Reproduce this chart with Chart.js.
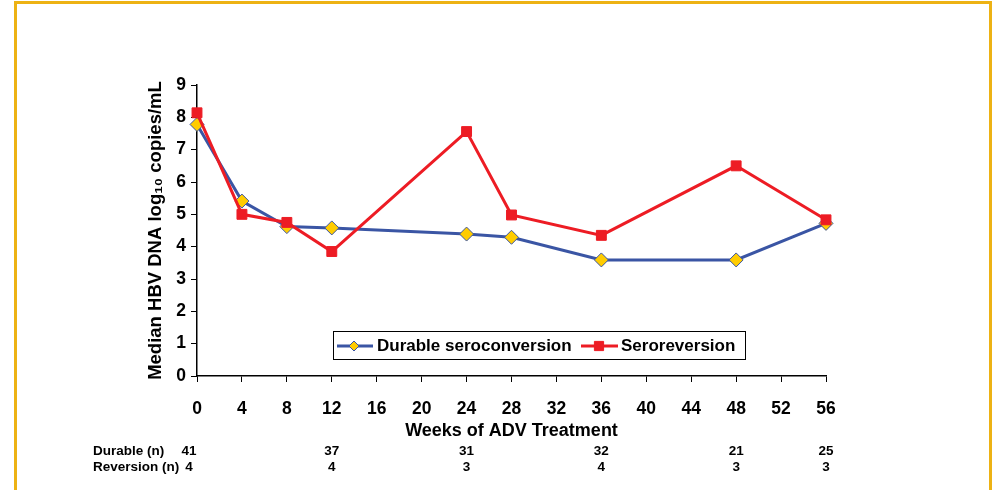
<!DOCTYPE html>
<html><head><meta charset="utf-8">
<script src="https://cdn.jsdelivr.net/npm/chart.js@4.4.0/dist/chart.umd.min.js"></script>
<style>
html,body{margin:0;padding:0;background:#fff;}
#wrap{position:relative;width:1003px;height:490px;overflow:hidden;}
#frame{position:absolute;left:14px;top:1px;width:972px;height:600px;border:3px solid #EDB214;border-bottom:none;pointer-events:none;}
canvas{display:block;}
</style></head>
<body><div id="wrap"><canvas id="c" width="1003" height="490"></canvas><div id="frame"></div></div>
<script>
const weeks = [0, 4, 8, 12, 24, 28, 36, 48, 56];
const durable = [7.78, 5.41, 4.62, 4.58, 4.39, 4.29, 3.59, 3.59, 4.72];
const reversion = [8.14, 5.0, 4.75, 3.85, 7.56, 4.98, 4.35, 6.5, 4.83];
const seriesNames = ['Durable seroconversion', 'Seroreversion'];
const xTicks = [0, 4, 8, 12, 16, 20, 24, 28, 32, 36, 40, 44, 48, 52, 56];
const yTicks = [0, 1, 2, 3, 4, 5, 6, 7, 8, 9];
const tableWeeks = [0, 12, 24, 36, 48, 56];
const durableN = [41, 37, 31, 32, 21, 25];
const reversionN = [4, 4, 3, 4, 3, 3];
const rowLabels = ['Durable (n)', 'Reversion (n)'];
const xTitle = 'Weeks of ADV Treatment';
const yTitle = 'Median HBV DNA log\u2081\u2080 copies/mL';

const FONT = '"Liberation Sans", Arial, sans-serif';
const BLUE = '#3A55A4';
const RED = '#ED1C24';
const YELLOW = '#FFCC00';

const overlay = {
  id: 'overlay',
  afterDraw(chart) {
    const ctx = chart.ctx;
    const xs = chart.scales.x;
    ctx.save();
    // data table under the axis
    ctx.fillStyle = '#000';
    ctx.textBaseline = 'middle';
    ctx.font = 'bold 13.5px ' + FONT;
    const rowY = [451, 467];
    ctx.textAlign = 'left';
    ctx.fillText(rowLabels[0], 93, rowY[0]);
    ctx.fillText(rowLabels[1], 93, rowY[1]);
    ctx.textAlign = 'center';
    tableWeeks.forEach((w, i) => {
      let px = xs.getPixelForValue(w);
      if (i === 0) px -= 8;
      ctx.fillText(String(durableN[i]), px, rowY[0]);
      ctx.fillText(String(reversionN[i]), px, rowY[1]);
    });
    // legend box
    ctx.lineWidth = 1;
    ctx.strokeStyle = '#000';
    ctx.fillStyle = '#fff';
    ctx.fillRect(333.5, 331.5, 412, 28);
    ctx.strokeRect(333.5, 331.5, 412, 28);
    const ly = 346;
    const items = [
      {ds: chart.data.datasets[0], x0: 337, x1: 373, px: 354, r: 5, tx: 377},
      {ds: chart.data.datasets[1], x0: 581, x1: 618, px: 599, r: 6.5, tx: 621}
    ];
    items.forEach(it => {
      ctx.strokeStyle = it.ds.borderColor;
      ctx.lineWidth = 3;
      ctx.beginPath(); ctx.moveTo(it.x0, ly); ctx.lineTo(it.x1, ly); ctx.stroke();
      ctx.fillStyle = it.ds.pointBackgroundColor;
      ctx.strokeStyle = it.ds.pointBorderColor;
      ctx.lineWidth = 1;
      Chart.helpers.drawPoint(ctx, {pointStyle: it.ds.pointStyle, radius: it.r, rotation: 0, borderWidth: 1}, it.px, ly);
      ctx.fillStyle = '#000';
      ctx.textAlign = 'left';
      ctx.textBaseline = 'middle';
      ctx.font = 'bold 17px ' + FONT;
      ctx.fillText(it.ds.label, it.tx, ly);
    });
    ctx.restore();
  }
};

new Chart(document.getElementById('c'), {
  type: 'line',
  data: {
    datasets: [
      {
        label: seriesNames[0],
        data: weeks.map((w, i) => ({x: w, y: durable[i]})),
        borderColor: BLUE, borderWidth: 3,
        pointStyle: 'rectRot', pointRadius: 7, pointHoverRadius: 7,
        pointBackgroundColor: YELLOW, pointBorderColor: BLUE, pointBorderWidth: 1,
        tension: 0, order: 2, clip: false
      },
      {
        label: seriesNames[1],
        data: weeks.map((w, i) => ({x: w, y: reversion[i]})),
        borderColor: RED, borderWidth: 3,
        pointStyle: 'rect', pointRadius: 7, pointHoverRadius: 7,
        pointBackgroundColor: RED, pointBorderColor: RED, pointBorderWidth: 1,
        tension: 0, order: 1, clip: false
      }
    ]
  },
  options: {
    responsive: false,
    animation: false,
    events: [],
    layout: {padding: {left: 145, right: 177, top: 85, bottom: 48}},
    plugins: {legend: {display: false}, tooltip: {enabled: false}},
    scales: {
      x: {
        type: 'linear', min: 0, max: 56,
        afterBuildTicks: s => { s.ticks = xTicks.map(v => ({value: v})); },
        afterFit: s => { s.height = 66; },
        grid: {drawOnChartArea: false, drawTicks: true, tickLength: 6, color: '#000', lineWidth: 1},
        border: {color: '#000', width: 1.5},
        ticks: {color: '#000', font: {family: FONT, size: 17.5, weight: 'bold'}, padding: 17, maxRotation: 0, autoSkip: false},
        title: {display: true, text: xTitle, color: '#000', font: {family: FONT, size: 18, weight: 'bold'}, padding: 0}
      },
      y: {
        type: 'linear', min: 0, max: 9,
        afterBuildTicks: s => { s.ticks = yTicks.map(v => ({value: v})); },
        afterFit: s => { s.width = 52; },
        grid: {drawOnChartArea: false, drawTicks: true, tickLength: 6, color: '#000', lineWidth: 1},
        border: {color: '#000', width: 1.5},
        ticks: {color: '#000', font: {family: FONT, size: 17.5, weight: 'bold'}, padding: 5},
        title: {display: true, text: yTitle, color: '#000', font: {family: FONT, size: 18.5, weight: 'bold'}, padding: 0}
      }
    }
  },
  plugins: [overlay]
});
</script>
</body></html>
